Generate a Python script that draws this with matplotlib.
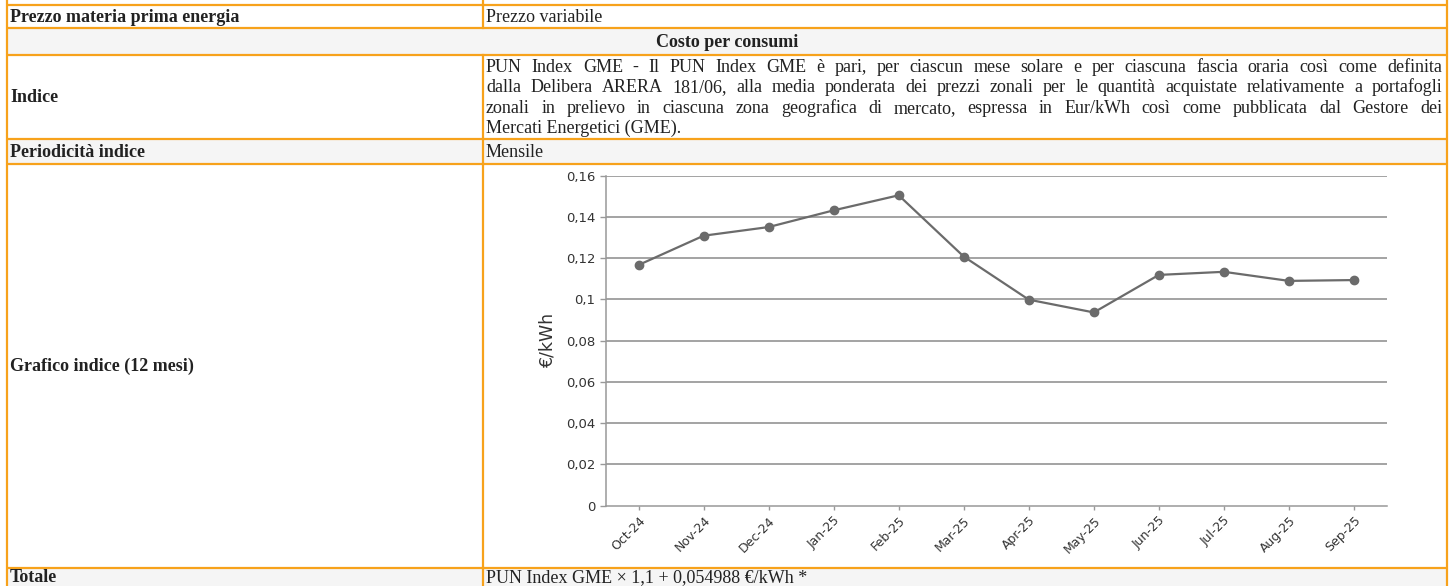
import matplotlib
matplotlib.use('Agg')
import matplotlib.pyplot as plt
from matplotlib.patches import Rectangle

# ---------------- data ----------------
months = ['Oct-24', 'Nov-24', 'Dec-24', 'Jan-25', 'Feb-25', 'Mar-25',
          'Apr-25', 'May-25', 'Jun-25', 'Jul-25', 'Aug-25', 'Sep-25']
pun_values = [0.1167, 0.1309, 0.1351, 0.1432, 0.1505, 0.1208,
              0.0999, 0.0937, 0.1119, 0.1134, 0.1090, 0.1094]
ytick_values = [0, 0.02, 0.04, 0.06, 0.08, 0.10, 0.12, 0.14, 0.16]
ytick_labels = ['0', '0,02', '0,04', '0,06', '0,08', '0,1', '0,12', '0,14', '0,16']
y_label = '€/kWh'

row_labels = ['Prezzo materia prima energia', 'Costo per consumi', 'Indice',
              'Periodicità indice', 'Grafico indice (12 mesi)', 'Totale']
row_values = ['Prezzo variabile', '', None, 'Mensile', None,
              'PUN Index GME × 1,1 + 0,054988 €/kWh *']
indice_lines = [
    'PUN Index GME - Il PUN Index GME è pari, per ciascun mese solare e per ciascuna fascia oraria così come definita',
    'dalla Delibera ARERA 181/06, alla media ponderata dei prezzi zonali per le quantità acquistate relativamente a portafogli',
    'zonali in prelievo in ciascuna zona geografica di mercato, espressa in Eur/kWh così come pubblicata dal Gestore dei',
    'Mercati Energetici (GME).',
]

# ---------------- figure ----------------
W, H = 1456, 586
fig = plt.figure(figsize=(W / 100, H / 100), dpi=100)
fig.patch.set_facecolor('white')
bg = fig.add_axes([0, 0, 1, 1])
bg.set_xlim(0, W)
bg.set_ylim(H, 0)
bg.axis('off')

ORANGE = '#F7A21B'
GRAY = '#F5F5F5'
TXT = '#222222'
SERIF = ['Liberation Serif', 'DejaVu Serif']
FS = 13
BASE = 5.5  # baseline offset below the visual centre of a line

xL, xM, xR = 7, 483, 1447
rows_y = [5, 28, 54.5, 139, 163.5, 567.5, 620]
row_bg = ['white', GRAY, 'white', GRAY, 'white', GRAY]

for i in range(6):
    y0, y1 = rows_y[i], rows_y[i + 1]
    bg.add_patch(Rectangle((xL, y0), xR - xL, y1 - y0, facecolor=row_bg[i],
                           edgecolor='none', zorder=0))

for y in rows_y[:-1]:
    bg.plot([xL, xR], [y, y], color=ORANGE, lw=1.6, zorder=2, solid_capstyle='butt')
bg.plot([xL, xL], [0, H], color=ORANGE, lw=1.6, zorder=2)
bg.plot([xR, xR], [0, H], color=ORANGE, lw=1.6, zorder=2)
for i in range(6):
    if i == 1:
        continue
    bg.plot([xM, xM], [rows_y[i], rows_y[i + 1]], color=ORANGE, lw=1.6, zorder=2)
bg.plot([xM, xM], [0, rows_y[0]], color=ORANGE, lw=1.6, zorder=2)

for i, lab in enumerate(row_labels):
    y0, y1 = rows_y[i], rows_y[i + 1]
    yc = (y0 + y1) / 2 if i < 5 else 577
    if i == 1:
        bg.text((xL + xR) / 2, yc + BASE, lab, ha='center', va='baseline', fontsize=FS,
                family=SERIF, fontweight='bold', color=TXT, zorder=3)
        continue
    bg.text(10, yc + BASE, lab, ha='left', va='baseline', fontsize=FS, family=SERIF,
            fontweight='bold', color=TXT, zorder=3)
    val = row_values[i]
    if val:
        bg.text(486, yc + BASE, val, ha='left', va='baseline', fontsize=FS, family=SERIF,
                color=TXT, zorder=3)

renderer = fig.canvas.get_renderer()
line_y = [66.5, 86.8, 107.1, 127.4]
x0, x1 = 486, 1442
for k, line in enumerate(indice_lines):
    y = line_y[k] + BASE
    if k == len(indice_lines) - 1:
        bg.text(x0, y, line, ha='left', va='baseline', fontsize=FS, family=SERIF,
                color=TXT, zorder=3)
        continue
    words = line.split(' ')
    ts = [bg.text(0, y, w, ha='left', va='baseline', fontsize=FS, family=SERIF,
                  color=TXT, zorder=3) for w in words]
    widths = [t.get_window_extent(renderer).width for t in ts]
    gap = (x1 - x0 - sum(widths)) / (len(words) - 1)
    xx = x0
    for t, wdt in zip(ts, widths):
        t.set_x(xx)
        xx += wdt + gap

# ---------------- chart ----------------
ax_l, ax_r, ax_t, ax_b = 606, 1386.5, 175.7, 505.7
ax = fig.add_axes([ax_l / W, (H - ax_b) / H, (ax_r - ax_l) / W, (ax_b - ax_t) / H])
ax.set_facecolor('none')
x = list(range(len(months)))
ax.plot(x, pun_values, color='#6b6b6b', lw=1.6, marker='o', markersize=6,
        markerfacecolor='#6b6b6b', markeredgecolor='#6b6b6b', zorder=3)
ax.set_xlim(-0.5, len(months) - 0.5)
ax.set_ylim(0, 0.16)
ax.set_yticks(ytick_values)
ax.set_yticklabels(ytick_labels, fontsize=9.5, color='#333333', family='DejaVu Sans')
ax.set_xticks(x)
ax.set_xticklabels(months, rotation=45, ha='right', rotation_mode='anchor',
                   fontsize=9, color='#333333', family='DejaVu Sans')
ax.tick_params(axis='y', length=4.5, width=1, color='#999999', pad=3)
ax.tick_params(axis='x', length=3, width=1, color='#999999', pad=3)
for v in ytick_values[1:]:
    ax.axhline(v, color='#8a8a8a', lw=1.1, zorder=1)
for s in ['top', 'right']:
    ax.spines[s].set_visible(False)
for s in ['left', 'bottom']:
    ax.spines[s].set_color('#999999')
    ax.spines[s].set_linewidth(1.1)
ax.set_ylabel(y_label, fontsize=12.5, color='#333333', family='DejaVu Sans')
ax.yaxis.set_label_coords((557 - ax_l) / (ax_r - ax_l), 0.5)

fig.savefig('out.png', dpi=100)
